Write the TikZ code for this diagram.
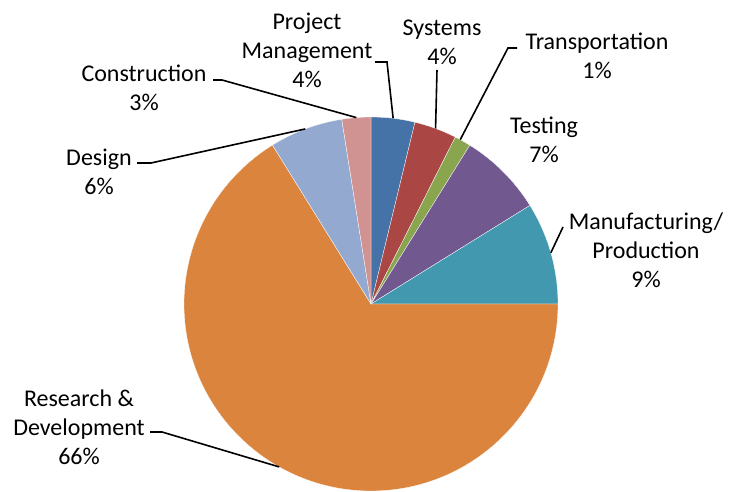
\documentclass[tikz,border=0pt]{standalone}
\usepackage{fontspec}
\setmainfont{Carlito}
\usetikzlibrary{calc}

\definecolor{pmblue}{HTML}{4572A7}
\definecolor{sysred}{HTML}{AA4643}
\definecolor{trgreen}{HTML}{89A54E}
\definecolor{tstpurple}{HTML}{71588F}
\definecolor{mfteal}{HTML}{4198AF}
\definecolor{rdorange}{HTML}{DB843D}
\definecolor{dslblue}{HTML}{93A9CF}
\definecolor{cnpink}{HTML}{D19392}

\begin{document}
\begin{tikzpicture}[x=1pt,y=1pt,
  lbl/.style={align=center, inner sep=1, text=black, font=\fontsize{24}{29}\selectfont},
  leader/.style={black, line width=1.6}]
\useasboundingbox (0,0) rectangle (737,492);
\fill[white] (0,0) rectangle (737,492);
\coordinate (O) at (371,188);
% slices, clockwise from twelve o'clock
\foreach \a/\b/\c in {90/76.4/pmblue, 76.4/63.2/sysred, 63.2/58.1/trgreen, 58.1/31.8/tstpurple,
  31.8/0/mfteal, 0/-238.2/rdorange, 121.8/99/dslblue, 99/90/cnpink} {
 \filldraw[fill=\c, draw=white, line width=.3] (O) --++(\a:187) arc[start angle=\a, end angle=\b, radius=187] -- cycle;
}
% labels
\node[lbl] (pm) at (307,442) {Project\\Management\\4\%};
\node[lbl] (sys) at (442,450) {Systems\\4\%};
\node[lbl] (tr) at (597,436) {Transportation\\1\%};
\node[lbl] (tst) at (544,352) {Testing\\7\%};
\node[lbl] (mf) at (646,242) {Manufacturing/\\Production\\9\%};
\node[lbl] (rd) at (79,65) {Research \&\\Development\\66\%};
\node[lbl] (ds) at (99,320) {Design\\6\%};
\node[lbl] (cn) at (144,404) {Construction\\3\%};
% leader ends
\coordinate (pm-a) at (375,430);
\coordinate (pm-b) at (387,430);
\coordinate (pm-tip) at ($(O)+(83.2:187)$);
\coordinate (sys-a) at (437,422);
\coordinate (sys-tip) at ($(O)+(69.8:187)$);
\coordinate (tr-a) at (517,444);
\coordinate (tr-b) at (508,444);
\coordinate (tr-tip) at ($(O)+(61.5:187)$);
\coordinate (mf-a) at (563,265);
\coordinate (mf-tip) at ($(O)+(15.9:187)$);
\coordinate (rd-a) at (150,60);
\coordinate (rd-b) at (162,60);
\coordinate (rd-tip) at ($(O)+(-119.4:187)$);
\coordinate (ds-a) at (137,329);
\coordinate (ds-b) at (151,329);
\coordinate (ds-tip) at ($(O)+(110.6:187)$);
\coordinate (cn-a) at (213,412);
\coordinate (cn-b) at (222,412);
\coordinate (cn-tip) at ($(O)+(94.5:187)$);
\draw[leader] (pm-a) -- (pm-b) -- (pm-tip);
\draw[leader] (sys-a) -- (sys-tip);
\draw[leader] (tr-a) -- (tr-b) -- (tr-tip);
\draw[leader] (mf-a) -- (mf-tip);
\draw[leader] (rd-a) -- (rd-b) -- (rd-tip);
\draw[leader] (ds-a) -- (ds-b) -- (ds-tip);
\draw[leader] (cn-a) -- (cn-b) -- (cn-tip);
\end{tikzpicture}
\end{document}
